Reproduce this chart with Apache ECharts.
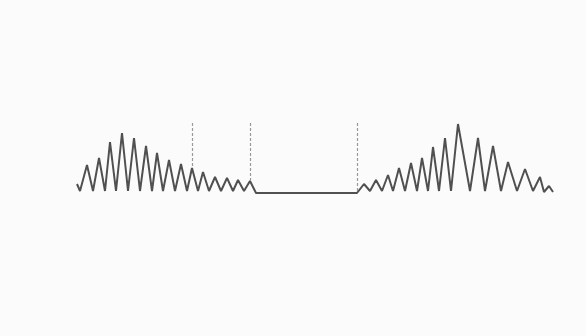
<!DOCTYPE html>
<html>
<head>
<meta charset="utf-8">
<script src="https://cdn.jsdelivr.net/npm/echarts@6/dist/echarts.min.js"></script>
<style>
html,body{margin:0;padding:0;background:#ffffff;}
#c{width:586px;height:336px;background:#fcfbfc;}
</style>
</head>
<body>
<div id="c"></div>
<script>
// x positions (time-like units) and amplitudes of the waveform
const xs = [0,3,10,16,22,28,33,39,45,51,57,63,69,75,80,86,92,98,104,110,115,121,126,132,138,144,150,156,161,167,173,179,
  280,287,293,299,305,311,316,322,328,334,340,345,351,356,362,368,374,381,393,401,408,416,424,431,440,448,456,463,467,472,476];
const ys = [9,2,28,2,35,2,51,2,60,2,55,2,47,2,40,2,33,2,29,2,25,2,21,2,16,2,15,2,13,2,12,0,
  0,9,2,13,2,18,2,25,2,30,2,35,2,46,2,55,2,69,2,55,2,47,2,31,2,24,2,16,1,7,1];
// dashed markers: x position, top value, bottom value
const markerX = [115,173,280];
const markerTop = [70,70,70];
const markerBottom = [25,12,0];

const data = xs.map((x,i)=>[x,ys[i]]);
const markData = markerX.map((x,i)=>[{coord:[x,markerTop[i]]},{coord:[x,markerBottom[i]]}]);

const chart = echarts.init(document.getElementById('c'), null, {renderer:'canvas'});
chart.setOption({
  backgroundColor:'#fcfbfc',
  animation:false,
  grid:{left:77,right:33,top:93,bottom:143},
  xAxis:{type:'value',min:0,max:476,show:false},
  yAxis:{type:'value',min:0,max:100,show:false},
  series:[{
    type:'line',
    data:data,
    symbol:'none',
    lineStyle:{color:'#505050',width:2},
    markLine:{
      silent:true,
      symbol:['none','none'],
      label:{show:false},
      lineStyle:{color:'#999999',type:[3,2],width:1.2},
      data:markData
    }
  }]
});
</script>
</body>
</html>
